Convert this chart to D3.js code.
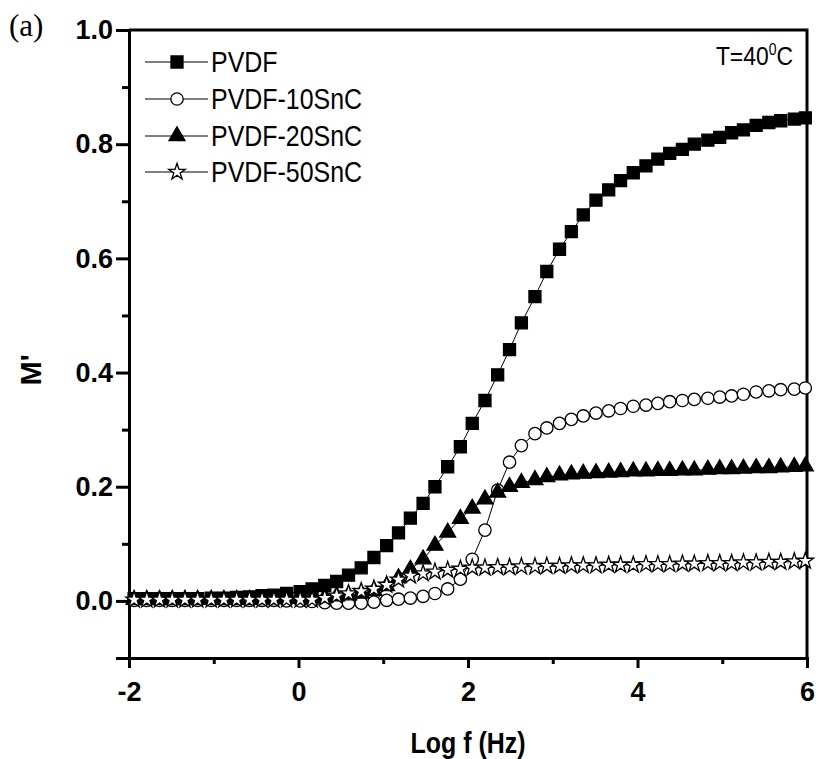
<!DOCTYPE html>
<html lang="en">
<head>
    <meta charset="UTF-8">
    <title>M' vs Log f</title>
    <style>
        body {
            margin: 0;
            background-color: white;
        }

        .axis path,
        .axis line {
            stroke: black;
            stroke-width: 3px;
        }

        .axis text {
            font-family: "Liberation Sans", Arial, sans-serif;
            font-weight: bold;
            font-size: 27px;
            fill: black;
        }

        .legend text {
            font-family: "Liberation Sans", Arial, sans-serif;
            font-size: 29px;
        }
    </style>
    <script src="https://d3js.org/d3.v7.min.js"></script>
</head>
<body>

<script>
    const width = 822;
    const height = 759;
    const margin = {top: 30, right: 15, bottom: 101, left: 129};

    // log f (Hz) sampling points, shared by all four samples
    const logF = [
        -1.94, -1.79, -1.64, -1.49, -1.34, -1.19, -1.03, -0.88, -0.73, -0.58,
        -0.43, -0.29, -0.14, 0.02, 0.16, 0.31, 0.45, 0.59, 0.74, 0.89,
        1.04, 1.18, 1.32, 1.47, 1.61, 1.76, 1.91, 2.05, 2.20, 2.35,
        2.49, 2.63, 2.79, 2.93, 3.08, 3.22, 3.36, 3.51, 3.66, 3.80,
        3.95, 4.10, 4.24, 4.38, 4.53, 4.67, 4.83, 4.97, 5.11, 5.25,
        5.40, 5.55, 5.69, 5.85, 5.98
    ];

    const pvdf = [
        0.004, 0.004, 0.004, 0.004, 0.004, 0.004, 0.005, 0.005, 0.006, 0.007,
        0.009, 0.010, 0.013, 0.016, 0.021, 0.027, 0.034, 0.045, 0.058, 0.076,
        0.097, 0.119, 0.145, 0.171, 0.200, 0.235, 0.270, 0.311, 0.351, 0.396,
        0.440, 0.487, 0.533, 0.577, 0.616, 0.647, 0.676, 0.702, 0.720, 0.736,
        0.750, 0.762, 0.774, 0.784, 0.791, 0.800, 0.807, 0.812, 0.820, 0.825,
        0.833, 0.838, 0.841, 0.844, 0.846
    ];

    const pvdf10 = [
        0.001, 0.001, 0.001, 0.001, 0.001, 0.001, 0.001, 0.001, 0.001, 0.001,
        0.001, 0.001, 0.000, 0.000, -0.001, -0.003, -0.004, -0.004, -0.004, -0.002,
        0.001, 0.003, 0.005, 0.008, 0.013, 0.021, 0.038, 0.073, 0.124, 0.194,
        0.243, 0.272, 0.293, 0.303, 0.311, 0.318, 0.324, 0.329, 0.333, 0.337,
        0.341, 0.343, 0.346, 0.349, 0.351, 0.353, 0.355, 0.357, 0.359, 0.362,
        0.366, 0.368, 0.370, 0.371, 0.373
    ];

    const pvdf20 = [
        0.002, 0.002, 0.002, 0.002, 0.002, 0.002, 0.002, 0.002, 0.002, 0.002,
        0.003, 0.003, 0.004, 0.004, 0.005, 0.006, 0.008, 0.010, 0.013, 0.018,
        0.026, 0.040, 0.055, 0.073, 0.097, 0.120, 0.144, 0.162, 0.178, 0.190,
        0.200, 0.207, 0.212, 0.217, 0.220, 0.222, 0.223, 0.224, 0.225, 0.226,
        0.227, 0.227, 0.228, 0.228, 0.229, 0.229, 0.230, 0.231, 0.231, 0.232,
        0.233, 0.233, 0.234, 0.235, 0.236
    ];

    const pvdf50 = [
        0.002, 0.002, 0.002, 0.002, 0.002, 0.002, 0.002, 0.002, 0.002, 0.002,
        0.002, 0.002, 0.002, 0.002, 0.002, 0.005, 0.009, 0.013, 0.017, 0.021,
        0.028, 0.037, 0.044, 0.048, 0.051, 0.054, 0.056, 0.058, 0.058, 0.059,
        0.059, 0.060, 0.060, 0.061, 0.061, 0.062, 0.062, 0.062, 0.063, 0.063,
        0.063, 0.064, 0.064, 0.064, 0.065, 0.065, 0.066, 0.066, 0.066, 0.067,
        0.067, 0.068, 0.068, 0.069, 0.070
    ];

    const seriesNames = ["PVDF", "PVDF-10SnC", "PVDF-20SnC", "PVDF-50SnC"];
    const seriesValues = [pvdf, pvdf10, pvdf20, pvdf50];

    const xMajorTicks = [-2, 0, 2, 4, 6];
    const xMinorTicks = [-1, 1, 3, 5];
    const yMajorTicks = [0.0, 0.2, 0.4, 0.6, 0.8, 1.0];
    const yMinorTicks = [-0.1, 0.1, 0.3, 0.5, 0.7, 0.9];

    // marker look for each series
    const markers = [
        {type: d3.symbolSquare, size: 144, fill: "black"},
        {type: d3.symbolCircle, size: 120, fill: "white"},
        {type: d3.symbolTriangle, size: 110, fill: "black"},
        {type: d3.symbolStar, size: 85, fill: "white"}
    ];

    const narrowFont = "'Liberation Sans', Arial, sans-serif";

    const svg = d3.select("body")
                  .append("svg")
                  .attr("width", width)
                  .attr("height", height);

    const x = d3.scaleLinear()
                .domain([-2, 6])
                .range([margin.left, width - margin.right]);

    const y = d3.scaleLinear()
                .domain([-0.1, 1.0])
                .range([height - margin.bottom, margin.top]);

    // frame top and right
    svg.append("path")
       .attr("d", `M${x(-2)},${y(1.0)}H${x(6)}V${y(-0.1)}`)
       .attr("fill", "none")
       .attr("stroke", "black")
       .attr("stroke-width", 3);

    // x axis
    svg.append("g")
       .attr("class", "axis")
       .attr("transform", `translate(0,${y(-0.1)})`)
       .call(d3.axisBottom(x).tickValues(xMajorTicks).tickSize(10).tickPadding(10)
               .tickFormat(d => String(d)))
       .call(g => g.selectAll("text").attr("dy", "0.85em"));

    svg.append("g")
       .attr("class", "axis")
       .attr("transform", `translate(0,${y(-0.1)})`)
       .call(d3.axisBottom(x).tickValues(xMinorTicks).tickSize(6).tickFormat(""))
       .call(g => g.select(".domain").remove());

    // y axis
    svg.append("g")
       .attr("class", "axis")
       .attr("transform", `translate(${x(-2)},0)`)
       .call(d3.axisLeft(y).tickValues(yMajorTicks).tickSize(13).tickPadding(3)
               .tickFormat(d3.format(".1f")));

    svg.append("g")
       .attr("class", "axis")
       .attr("transform", `translate(${x(-2)},0)`)
       .call(d3.axisLeft(y).tickValues(yMinorTicks).tickSize(7).tickFormat(""))
       .call(g => g.select(".domain").remove());

    // curves
    const line = d3.line()
                   .x((d, i) => x(logF[i]))
                   .y(d => y(d));

    seriesValues.forEach((vals, k) => {
        const g = svg.append("g").attr("class", "series");

        g.append("path")
         .attr("d", line(vals))
         .attr("fill", "none")
         .attr("stroke", "black")
         .attr("stroke-width", 1);

        g.selectAll("path.pt")
         .data(vals)
         .enter()
         .append("path")
         .attr("class", "pt")
         .attr("d", d3.symbol().type(markers[k].type).size(markers[k].size))
         .attr("transform", (d, i) => `translate(${x(logF[i])},${y(d)})`)
         .attr("fill", markers[k].fill)
         .attr("stroke", "black")
         .attr("stroke-width", 1.3);
    });

    // legend
    const legend = svg.append("g").attr("class", "legend");
    const legendY = [62, 99, 136, 172];

    seriesNames.forEach((name, k) => {
        const row = legend.append("g")
                          .attr("transform", `translate(145,${legendY[k]})`);
        row.append("line")
           .attr("x1", 0).attr("x2", 63)
           .attr("stroke", "black").attr("stroke-width", 1);
        row.append("path")
           .attr("d", d3.symbol().type(markers[k].type).size(markers[k].size))
           .attr("transform", "translate(32,0)")
           .attr("fill", markers[k].fill)
           .attr("stroke", "black")
           .attr("stroke-width", 1.3);
        // squeeze the text a bit, the original uses a narrow face
        row.append("text")
           .attr("transform", "translate(66,0) scale(0.86,1)")
           .attr("dy", "0.36em")
           .text(name);
    });

    // temperature note
    const tNote = svg.append("text")
                     .attr("transform", "translate(793,65) scale(0.88,1)")
                     .attr("text-anchor", "end")
                     .style("font-family", narrowFont)
                     .style("font-size", "26px");
    tNote.append("tspan").text("T=40");
    tNote.append("tspan").attr("dy", -10).style("font-size", "16px").text("0");
    tNote.append("tspan").attr("dy", 10).text("C");

    // axis titles
    svg.append("text")
       .attr("transform", `translate(${(x(-2) + x(6)) / 2},753) scale(0.86,1)`)
       .attr("text-anchor", "middle")
       .style("font-family", narrowFont)
       .style("font-weight", "bold")
       .style("font-size", "29px")
       .text("Log f (Hz)");

    svg.append("text")
       .attr("transform", "translate(41,370) rotate(-90)")
       .attr("text-anchor", "middle")
       .style("font-family", narrowFont)
       .style("font-weight", "bold")
       .style("font-size", "29px")
       .text("M'");

    // panel label
    svg.append("text")
       .attr("x", 9)
       .attr("y", 36)
       .style("font-family", "'Liberation Serif', 'Times New Roman', serif")
       .style("font-size", "31px")
       .text("(a)");
</script>

</body>
</html>
